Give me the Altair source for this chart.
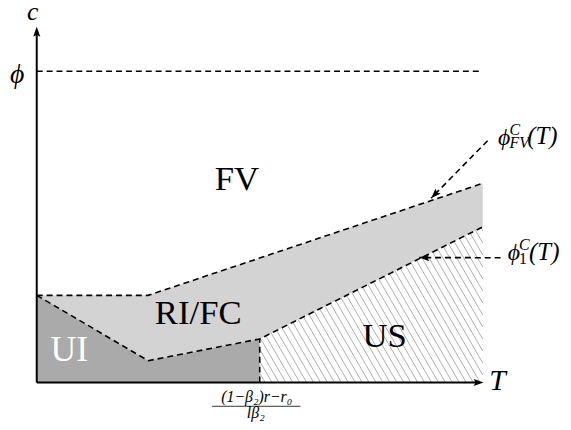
import altair as alt
import pandas as pd
import numpy as np

# ---- schematic values, in (T, c) units ----
knot_T = [0.0, 2.5, 5.0, 10.0]
upper_c = [2.8, 2.8, 4.0, 6.4]      # phi_FV^C(T) boundary
lower_c = [2.8, 0.7, 1.4, 5.0]      # phi_1^C(T) boundary
T_star = 5.0                        # (1-b2)r - r0 / (l b2)
phi_level = 10.0
phi_end = 9.96
T_axis_end = 10.02
c_axis_end = 11.43

# region labels
reg_text = ["FV", "RI/FC", "US"]
reg_T = [4.49, 3.62, 7.80]
reg_c = [6.18, 1.88, 1.15]

# arrows (start -> tip)
arr_T = [10.11, 10.40]
arr_c = [7.77, 4.01]
arr_T2 = [8.844, 8.578]
arr_c2 = [5.924, 4.013]
arr_angle = [224.5, 270]

# scale frame
T_dom = [-0.6444, 11.8]
c_dom = [-1.2102, 11.9745]
W, H = 560, 414

dash = [6, 4]
FONT = "Liberation Serif"


def X(f="T"):
    return alt.X(f + ":Q", scale=alt.Scale(domain=T_dom, nice=False, zero=False), axis=None)


def Y(f="c"):
    return alt.Y(f + ":Q", scale=alt.Scale(domain=c_dom, nice=False, zero=False), axis=None)


# ---- regions ----
fc_df = pd.DataFrame({"T": knot_T, "c": upper_c, "c2": lower_c})
fc_area = alt.Chart(fc_df).mark_area(color="#d3d3d3", opacity=1).encode(
    x=X(), y=Y(), y2="c2:Q")

ui_df = pd.DataFrame({"T": knot_T[:3], "c": lower_c[:3], "c2": [0.0] * 3})
ui_area = alt.Chart(ui_df).mark_area(color="#aaaaaa", opacity=1).encode(
    x=X(), y=Y(), y2="c2:Q")

# hatch pattern for the US region (decorative lines clipped to the region)
s = 1.73 * 45 / 31.4
m = (lower_c[3] - lower_c[2]) / (knot_T[3] - knot_T[2])
b0 = lower_c[2] - m * knot_T[2]
rows = []
for T0 in np.arange(T_star + 0.12, 10 + lower_c[3] / s, 7 / 45):
    Tu = (s * T0 - b0) / (s + m)
    Ta = max(Tu, T_star)
    Tb = min(T0, 10.0)
    if Ta < Tb:
        rows.append({"T": Ta, "c": s * (T0 - Ta), "T2": Tb, "c2": s * (T0 - Tb)})
hatch = alt.Chart(pd.DataFrame(rows)).mark_rule(color="#9a9a9a", strokeWidth=0.8).encode(
    x=X(), y=Y(), x2="T2:Q", y2="c2:Q")

# ---- dashed boundaries ----
up_df = pd.DataFrame({"T": [knot_T[0], knot_T[1], knot_T[3]],
                      "c": [upper_c[0], upper_c[1], upper_c[3]]})
up_line = alt.Chart(up_df).mark_line(color="black", strokeWidth=1.6, strokeDash=dash).encode(
    x=X(), y=Y())
lo_df = pd.DataFrame({"T": knot_T, "c": lower_c})
lo_line = alt.Chart(lo_df).mark_line(color="black", strokeWidth=1.6, strokeDash=dash).encode(
    x=X(), y=Y())

rules_df = pd.DataFrame({
    "T": [T_star, 0.0] + arr_T,
    "c": [0.0, phi_level] + arr_c,
    "T2": [T_star, phi_end] + arr_T2,
    "c2": [lower_c[2], phi_level] + arr_c2,
})
dash_rules = alt.Chart(rules_df).mark_rule(color="black", strokeWidth=1.6, strokeDash=dash).encode(
    x=X(), y=Y(), x2="T2:Q", y2="c2:Q")

# ---- axes ----
axes_df = pd.DataFrame({"T": [0.0, 0.0], "c": [0.0, 0.0],
                        "T2": [T_axis_end - 0.1, 0.0], "c2": [0.0, c_axis_end - 0.15]})
axes = alt.Chart(axes_df).mark_rule(color="black", strokeWidth=2).encode(
    x=X(), y=Y(), x2="T2:Q", y2="c2:Q")

ARROW = "M0,0L0.65,1.8L0,1.45L-0.65,1.8Z"


def head(T, c, ang):
    return alt.Chart(pd.DataFrame({"T": [T], "c": [c]})).mark_point(
        shape=ARROW, size=125, filled=True, color="black", opacity=1, angle=ang,
        strokeWidth=0).encode(x=X(), y=Y())


heads = [head(T_axis_end, 0.0, 90), head(0.0, c_axis_end, 0)]
heads += [head(t, c, a) for t, c, a in zip(arr_T2, arr_c2, arr_angle)]


# ---- text ----
def txt(texts, Ts, cs, size, style="normal", align="center", color="black"):
    df = pd.DataFrame({"T": Ts, "c": cs, "label": texts})
    return alt.Chart(df).mark_text(
        font=FONT, fontSize=size, fontStyle=style, align=align,
        baseline="alphabetic", color=color).encode(x=X(), y=Y(), text="label:N")


texts = [
    txt(reg_text, reg_T, reg_c, 35),
    txt(["UI"], [0.73], [0.70], 36, color="white"),
    txt(["c"], [-0.09], [11.64], 26, "italic"),
    txt(["ϕ"], [-0.44], [9.62], 28, "italic"),
    txt(["T"], [10.33], [-0.255], 30, "italic"),
    # phi_FV^C(T)
    txt(["ϕ"], [10.48], [7.643], 24, "italic"),
    txt(["C"], [10.72], [7.95], 16, "italic"),
    txt(["FV"], [10.82], [7.53], 16, "italic"),
    txt(["(T)"], [11.0], [7.675], 25, "italic", align="left"),
    # phi_1^C(T)
    txt(["ϕ"], [10.70], [3.949], 24, "italic"),
    txt(["C"], [10.93], [4.25], 16, "italic"),
    txt(["1"], [10.90], [3.80], 16),
    txt(["(T)"], [11.04], [3.949], 25, "italic", align="left"),
    # tick label fraction
    txt(["(1−β₂)r−r₀"], [4.933], [-0.637], 16, "italic"),
    txt(["lβ₂"], [4.911], [-1.146], 16, "italic"),
]
frac_bar = alt.Chart(pd.DataFrame({"T": [3.933], "c": [-0.764], "T2": [5.911]})).mark_rule(
    color="black", strokeWidth=0.8).encode(x=X(), y=Y(), x2="T2:Q")

chart = alt.layer(
    fc_area, ui_area, hatch, up_line, lo_line, dash_rules, axes, *heads, *texts, frac_bar
).properties(
    width=W, height=H, padding=0, autosize=alt.AutoSizeParams(type="none"),
    background="white"
).configure_view(stroke=None)

chart.save("out.html", embed_options={"renderer": "svg", "actions": False})
